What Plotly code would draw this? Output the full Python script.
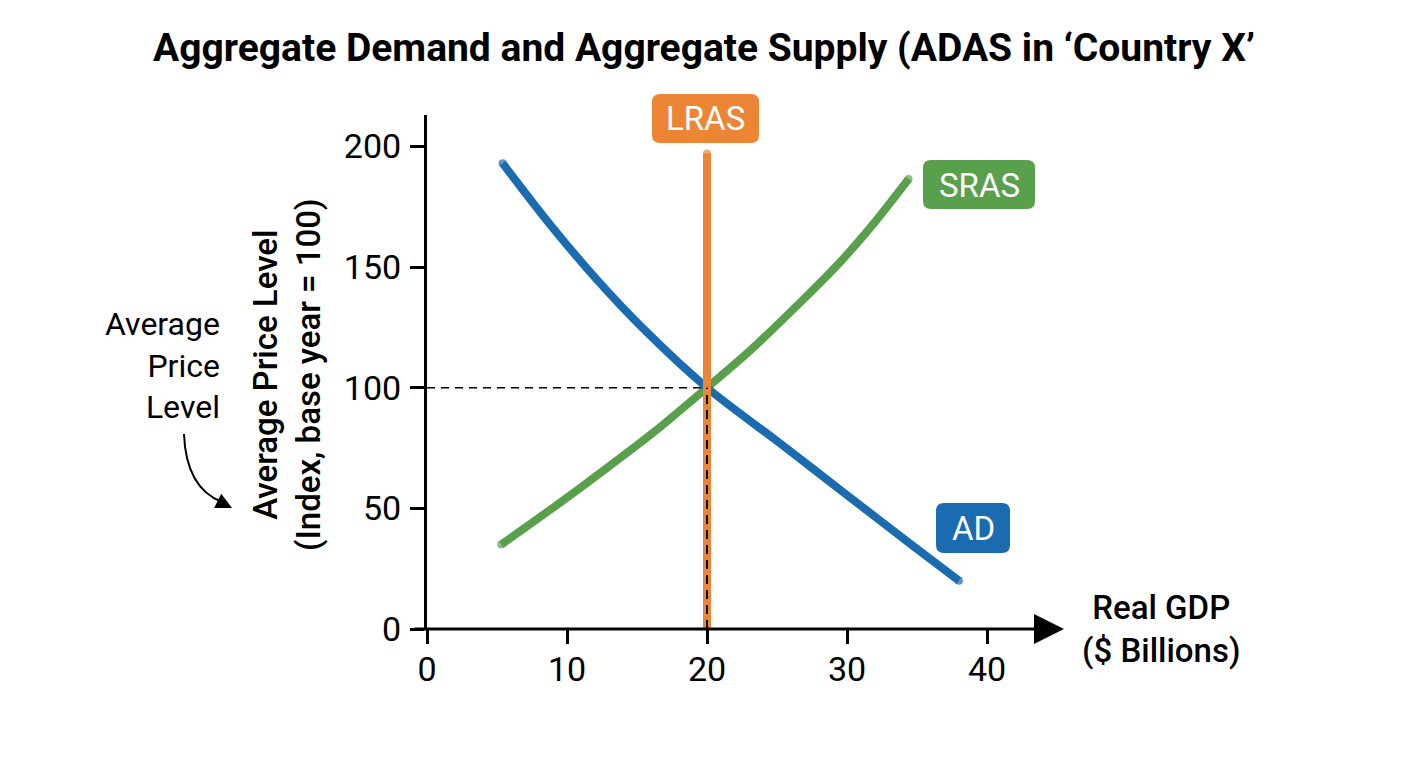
import plotly.graph_objects as go

# curves (Real GDP in $bn, price index)
ad_x = [5.4, 8.6, 12.1, 15.7, 20.0, 25.2, 30.0, 34.7, 38.0]
ad_y = [193, 169, 145, 123, 100, 77, 55.5, 34.5, 20]

sras_x = [5.3, 9.3, 12.8, 16.4, 20.0, 23.1, 26.6, 29.5, 31.9, 34.4]
sras_y = [35, 51.5, 66.5, 82.5, 100, 115.5, 135, 152, 168, 186.5]

lras_x = [20, 20]
lras_y = [0, 197]

eq_gdp = 20
eq_price = 100

x_ticks = [0, 10, 20, 30, 40]
y_ticks = [0, 50, 100, 150, 200]

BLUE = "#1B6BB0"
GREEN = "#58A04B"
ORANGE = "#EC8535"
FONT = "Roboto"

# page body adds an 8px offset, so size the figure for it
OFF = 8
W, H = 1408 - 2 * OFF, 768 - 2 * OFF
X0, Y0 = 427, 629          # plot origin on screen
PW, PH = 637, 514
L, T = X0 - OFF, Y0 - PH - OFF
R, B = W - L - PW, H - T - PH


def px(xp):
    return (xp - X0) / PW


def py(yp):
    return (Y0 - yp) / PH


def rounded_box(x0, y0, x1, y1, r=8):
    # rounded rectangle in paper coords from screen pixel corners
    a, b, c, d = px(x0), py(y0), px(x1), py(y1)
    rx, ry = r / PW, r / PH
    return (f"M {a+rx},{b} L {c-rx},{b} Q {c},{b} {c},{b-ry} "
            f"L {c},{d+ry} Q {c},{d} {c-rx},{d} L {a+rx},{d} "
            f"Q {a},{d} {a},{d+ry} L {a},{b-ry} Q {a},{b} {a+rx},{b} Z")


def caps(n, w=8):
    return [w] + [0] * (n - 2) + [w]


fig = go.Figure()

fig.add_trace(go.Scatter(x=sras_x, y=sras_y, mode="lines+markers",
                         line=dict(color=GREEN, width=8, shape="spline", smoothing=0.8),
                         marker=dict(size=caps(len(sras_x)), color=GREEN, line=dict(width=0)),
                         hoverinfo="skip"))
fig.add_trace(go.Scatter(x=ad_x, y=ad_y, mode="lines+markers",
                         line=dict(color=BLUE, width=8, shape="spline", smoothing=0.8),
                         marker=dict(size=caps(len(ad_x)), color=BLUE, line=dict(width=0)),
                         hoverinfo="skip"))
fig.add_trace(go.Scatter(x=lras_x, y=lras_y, mode="lines+markers", line=dict(color=ORANGE, width=8),
                         marker=dict(size=[0, 8], color=ORANGE, line=dict(width=0)), hoverinfo="skip"))
# equilibrium guides
fig.add_trace(go.Scatter(x=[0, eq_gdp], y=[eq_price, eq_price], mode="lines",
                         line=dict(color="black", width=1.5, dash="8px,6px"), hoverinfo="skip"))
fig.add_trace(go.Scatter(x=[eq_gdp, eq_gdp], y=[0, eq_price], mode="lines",
                         line=dict(color="black", width=2, dash="9px,6px"), hoverinfo="skip"))

shapes = [
    dict(type="path", xref="paper", yref="paper", path=rounded_box(652, 94, 759, 143),
         fillcolor=ORANGE, line=dict(width=0)),
    dict(type="path", xref="paper", yref="paper", path=rounded_box(923, 160, 1035, 209),
         fillcolor=GREEN, line=dict(width=0)),
    dict(type="path", xref="paper", yref="paper", path=rounded_box(936, 503, 1010, 553),
         fillcolor=BLUE, line=dict(width=0)),
    # curved pointer from the side note
    dict(type="path", xref="paper", yref="paper",
         path=f"M {px(184)},{py(434)} Q {px(186)},{py(488)} {px(222)},{py(502)}",
         line=dict(color="black", width=2)),
]

box_font = dict(family=FONT, size=33, color="white")
annotations = [
    dict(x=px(705.5), y=py(119), xref="paper", yref="paper", text="LRAS", showarrow=False,
         xanchor="center", yanchor="middle", font=box_font),
    dict(x=px(979), y=py(185), xref="paper", yref="paper", text="SRAS", showarrow=False,
         xanchor="center", yanchor="middle", font=box_font),
    dict(x=px(973), y=py(528.5), xref="paper", yref="paper", text="AD", showarrow=False,
         xanchor="center", yanchor="middle", font=box_font),
    # y axis title
    dict(x=px(287), y=py(375), xref="paper", yref="paper", textangle=-90, showarrow=False,
         xanchor="center", yanchor="middle",
         text="Average Price Level<br>(Index, base year = 100)",
         font=dict(family=FONT, size=33, color="black", weight=500)),
    # x axis title
    dict(x=px(1161), y=py(629), xref="paper", yref="paper", showarrow=False,
         xanchor="center", yanchor="middle",
         text="Real GDP<br>($ Billions)",
         font=dict(family=FONT, size=33, color="black", weight=500)),
    # side note
    dict(x=px(222), y=py(365), xref="paper", yref="paper", xanchor="right", yanchor="middle",
         align="right", showarrow=False, text="Average<br>Price<br>Level",
         font=dict(family=FONT, size=32, color="black")),
    dict(x=px(232), y=py(508), xref="paper", yref="paper", ax=-14, ay=-7, text="",
         showarrow=True, arrowhead=2, arrowsize=1.6, arrowwidth=2, arrowcolor="black"),
    # x axis with arrow head
    dict(x=45.5, y=0, xref="x", yref="y", ax=-1.0, ay=0, axref="x", ayref="y", text="",
         showarrow=True, arrowhead=2, arrowsize=2.0, arrowwidth=3, arrowcolor="black"),
]

fig.update_layout(
    width=W, height=H,
    margin=dict(l=L, r=R, t=T, b=B),
    paper_bgcolor="white", plot_bgcolor="white",
    showlegend=False,
    title=dict(text="<b>Aggregate Demand and Aggregate Supply (ADAS in ‘Country X’</b>",
               x=0.5, xanchor="center", y=1 - (47 - OFF) / H, yanchor="middle",
               font=dict(family=FONT, size=39, color="black")),
    shapes=shapes,
    annotations=annotations,
    font=dict(family=FONT, color="black"),
)

fig.update_xaxes(range=[0, 45.5], tickvals=x_ticks, showgrid=False, zeroline=False, showline=False,
                 ticks="outside", ticklen=14, tickwidth=3, tickcolor="black",
                 tickfont=dict(family=FONT, size=34, color="black"), ticklabelstandoff=-4)
fig.update_yaxes(range=[0, 213], tickvals=y_ticks, showgrid=False, zeroline=False,
                 showline=True, linewidth=3, linecolor="black",
                 ticks="outside", ticklen=14, tickwidth=3, tickcolor="black",
                 tickfont=dict(family=FONT, size=34, color="black"), ticklabelstandoff=2)

fig.write_html("out.html")
